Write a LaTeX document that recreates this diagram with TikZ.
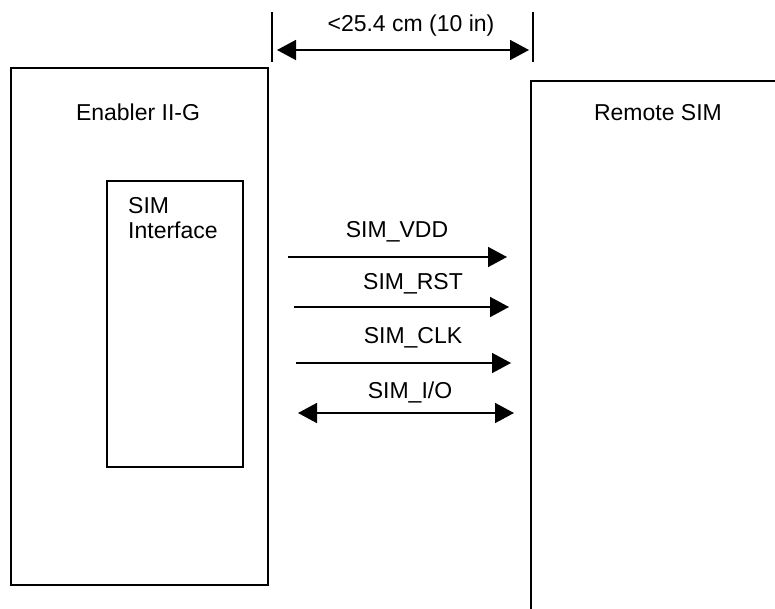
\documentclass[tikz,border=0pt]{standalone}
\usepackage{fontspec}
\setmainfont{Liberation Sans}
\usetikzlibrary{arrows.meta}
\begin{document}
\begin{tikzpicture}[x=1pt,y=-1pt,
  box/.style={draw=black,line width=1.6pt},
  lbl/.style={anchor=base,inner sep=0pt,font=\fontsize{23}{25}\selectfont},
  sig/.style={line width=1.6pt,-{Triangle[length=19pt,width=20pt]}},
  bisig/.style={line width=1.6pt,{Triangle[length=19pt,width=20pt]}-{Triangle[length=19pt,width=20pt]}},
  tick/.style={line width=1.6pt}]
\useasboundingbox (0,0) rectangle (775,608);
\clip (0,0) rectangle (775,608);
% boxes
\draw[box] (11,68) rectangle (268,585);
\coordinate (encnw) at (11,68);
\draw[box] (107,181) rectangle (243,467);
\draw[box] (531,81) rectangle (800,640);
% box titles
\node[lbl] (enabler) at (138,120) {Enabler II-G};
\node[lbl,anchor=base west] (simif) at (128,213) {SIM};
\node[lbl,anchor=base west] (simif2) at (128,238) {Interface};
\node[lbl] (remote) at (658,120) {Remote SIM};
% dimension
\coordinate (t1a) at (272,12);
\coordinate (t1b) at (272,62);
\coordinate (t2a) at (533,12);
\coordinate (t2b) at (533,62);
\draw[tick] (t1a) -- (t1b);
\draw[tick] (t2a) -- (t2b);
\coordinate (da) at (277,50);
\coordinate (db) at (529,50);
\draw[bisig] (da) -- (db);
\node[lbl] (dim) at (411,31) {<25.4 cm (10 in)};
% signals
\coordinate (v1) at (288,257); \coordinate (v2) at (507,257);
\coordinate (r1) at (294,307); \coordinate (r2) at (509,307);
\coordinate (c1) at (296,363); \coordinate (c2) at (511,363);
\coordinate (i1) at (298,413); \coordinate (i2) at (514,413);
\draw[sig] (v1) -- (v2);
\draw[sig] (r1) -- (r2);
\draw[sig] (c1) -- (c2);
\draw[bisig] (i1) -- (i2);
\node[lbl] (lvdd) at (397,237) {SIM\_VDD};
\node[lbl] (lrst) at (413,289) {SIM\_RST};
\node[lbl] (lclk) at (413,343) {SIM\_CLK};
\node[lbl] (lio) at (410,398) {SIM\_I/O};
\end{tikzpicture}
\end{document}
